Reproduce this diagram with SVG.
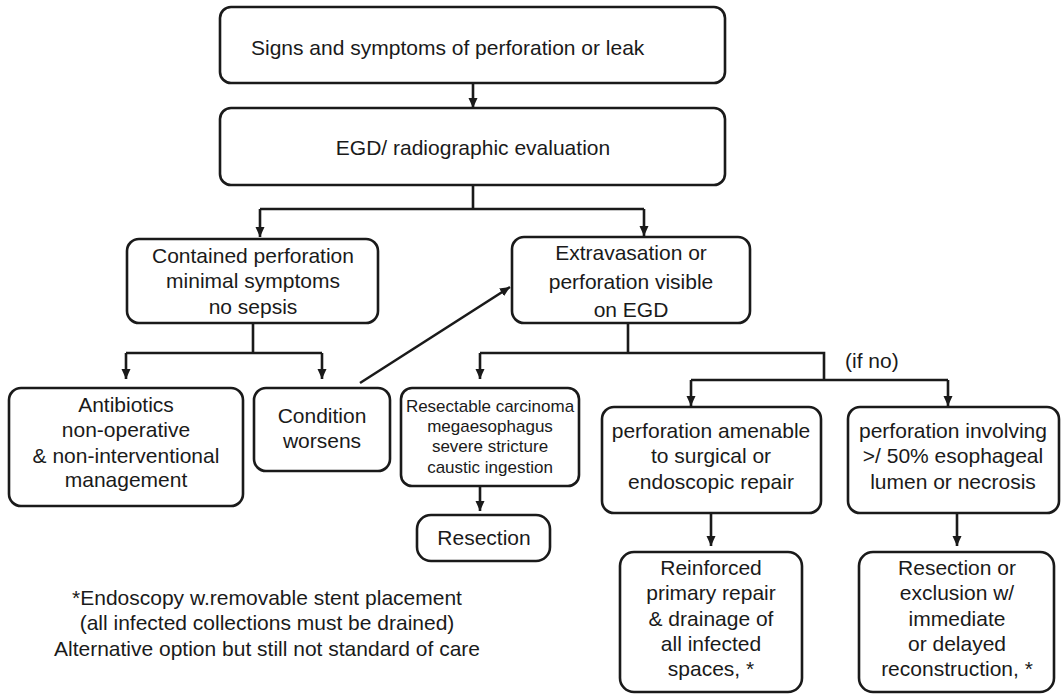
<svg xmlns="http://www.w3.org/2000/svg" width="1061" height="695" viewBox="0 0 1061 695">
<defs>
<marker id="ah" markerUnits="userSpaceOnUse" markerWidth="10" markerHeight="10" refX="10" refY="5" orient="auto">
<path d="M0,0.5 L10,5 L0,9.5 z" fill="#1a1a1a"/>
</marker>
<style>
.box{fill:#fff;stroke:#1a1a1a;stroke-width:2.6}
.t{font-family:"Liberation Sans",Arial,sans-serif;font-size:21px;fill:#1a1a1a;text-anchor:middle}
.s{font-size:17px}
.c{fill:none;stroke:#1a1a1a;stroke-width:2.6}
.a{marker-end:url(#ah)}
</style>
</defs>
<rect width="1061" height="695" fill="#fff"/>
<g id="connectors">
<path class="c a" d="M473,83 V108"/>
<path class="c" d="M473,185 V209 M260,209 H644"/>
<path class="c a" d="M260,209 V237"/>
<path class="c a" d="M644,209 V236"/>
<path class="c" d="M253,323 V353 M126,353 H322"/>
<path class="c a" d="M126,353 V379"/>
<path class="c a" d="M322,353 V379"/>
<path class="c a" d="M360,383 L510,287"/>
<path class="c" d="M628,323 V353 M480,353 H824 V380 M691,380 H948"/>
<path class="c a" d="M480,353 V379"/>
<path class="c a" d="M691,380 V406"/>
<path class="c a" d="M948,380 V406"/>
<path class="c a" d="M480,486 V511"/>
<path class="c a" d="M711,513 V546"/>
<path class="c a" d="M957,513 V546"/>
<text class="t" x="845" y="368" style="text-anchor:start">(if no)</text>
</g>
<g id="n1">
<rect class="box" x="220" y="7" width="505" height="76" rx="11"/>
<text class="t" x="251" y="55" style="text-anchor:start">Signs and symptoms of perforation or leak</text>
</g>
<g id="n2">
<rect class="box" x="220" y="108" width="505" height="77" rx="11"/>
<text class="t" x="473" y="155">EGD/ radiographic evaluation</text>
</g>
<g id="n3">
<rect class="box" x="127" y="239" width="251" height="84" rx="12"/>
<text class="t" x="253" y="263">Contained perforation</text>
<text class="t" x="253" y="288">minimal symptoms</text>
<text class="t" x="253" y="314">no sepsis</text>
</g>
<g id="n4">
<rect class="box" x="512" y="237" width="238" height="86" rx="12"/>
<text class="t" x="631" y="260">Extravasation or</text>
<text class="t" x="631" y="289">perforation visible</text>
<text class="t" x="631" y="317">on EGD</text>
</g>
<g id="n5">
<rect class="box" x="9" y="388" width="234" height="118" rx="12"/>
<text class="t" x="126" y="412">Antibiotics</text>
<text class="t" x="126" y="437">non-operative</text>
<text class="t" x="126" y="463">&amp; non-interventional</text>
<text class="t" x="126" y="487">management</text>
</g>
<g id="n6">
<rect class="box" x="254" y="388" width="136" height="83" rx="12"/>
<text class="t" x="322" y="423">Condition</text>
<text class="t" x="322" y="448">worsens</text>
</g>
<g id="n7">
<rect class="box" x="401" y="388" width="178" height="98" rx="11"/>
<text class="t s" x="490" y="412">Resectable carcinoma</text>
<text class="t s" x="490" y="432">megaesophagus</text>
<text class="t s" x="490" y="452">severe stricture</text>
<text class="t s" x="490" y="473">caustic ingestion</text>
</g>
<g id="n8">
<rect class="box" x="417" y="515" width="133" height="46" rx="14"/>
<text class="t" x="484" y="545">Resection</text>
</g>
<g id="n9">
<rect class="box" x="602" y="407" width="219" height="106" rx="12"/>
<text class="t" x="711" y="438">perforation amenable</text>
<text class="t" x="711" y="463">to surgical or</text>
<text class="t" x="711" y="489">endoscopic repair</text>
</g>
<g id="n10">
<rect class="box" x="848" y="407" width="211" height="106" rx="12"/>
<text class="t" x="953" y="438">perforation involving</text>
<text class="t" x="953" y="463">&gt;/ 50% esophageal</text>
<text class="t" x="953" y="489">lumen or necrosis</text>
</g>
<g id="n11">
<rect class="box" x="620" y="552" width="182" height="140" rx="14"/>
<text class="t" x="711" y="575">Reinforced</text>
<text class="t" x="711" y="600">primary repair</text>
<text class="t" x="711" y="626">&amp; drainage of</text>
<text class="t" x="711" y="651">all infected</text>
<text class="t" x="711" y="676">spaces, *</text>
</g>
<g id="n12">
<rect class="box" x="859" y="552" width="195" height="140" rx="14"/>
<text class="t" x="957" y="575">Resection or</text>
<text class="t" x="957" y="600">exclusion w/</text>
<text class="t" x="957" y="626">immediate</text>
<text class="t" x="957" y="651">or delayed</text>
<text class="t" x="957" y="676">reconstruction, *</text>
</g>
<g id="footnote">
<text class="t" x="267" y="605">*Endoscopy w.removable stent placement</text>
<text class="t" x="267" y="630">(all infected collections must be drained)</text>
<text class="t" x="267" y="656">Alternative option but still not standard of care</text>
</g>
</svg>
